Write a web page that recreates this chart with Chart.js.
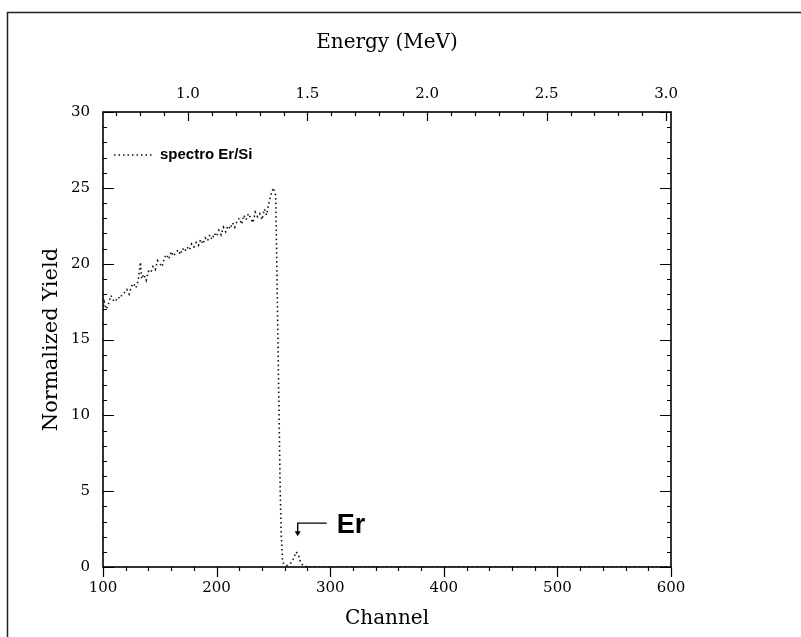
<!DOCTYPE html>
<html>
<head>
<meta charset="utf-8">
<script src="https://cdn.jsdelivr.net/npm/chart.js@4/dist/chart.umd.min.js"></script>
<style>
  html, body { margin: 0; padding: 0; background: #ffffff; }
  canvas { display: block; }
</style>
</head>
<body>
<canvas id="c" width="801" height="637"></canvas>
<script>
// ---- data ----
const channels = [100,101,103,105,107,109,111,113,115,117,119,121,123,125,127,129,131,133,134,136,138,140,142,144,146,148,150,152,154,156,158,160,162,164,166,168,170,172,174,176,178,180,182,184,186,188,190,192,194,196,198,200,202,204,206,208,210,212,214,216,218,220,222,224,226,228,230,232,234,236,238,240,242,244,246,248,250,252,253,254,255,256,257,258,259,262,266,268,270,272,274,276,280,600];
const yields   = [16.9,17.5,17.0,17.4,17.9,17.6,17.5,17.8,17.7,18.0,18.1,18.3,18.0,18.5,18.7,18.4,18.9,20.1,19.0,19.3,18.9,19.5,19.4,19.8,19.6,20.2,20.0,19.8,20.4,20.6,20.3,20.8,20.5,20.7,20.9,20.6,21.0,20.8,21.1,20.9,21.3,21.1,21.4,21.2,21.6,21.3,21.7,21.5,21.9,21.6,22.0,21.8,22.2,21.9,22.4,22.1,22.5,22.3,22.7,22.4,22.8,23.0,22.6,23.2,22.9,23.3,23.0,22.7,23.4,23.1,23.3,22.9,23.6,23.2,24.0,24.6,25.0,24.5,20.0,15.0,10.0,5.0,2.0,0.5,0.2,0.1,0.3,0.6,1.0,0.8,0.3,0.1,0,0];
const seriesLabel = "spectro Er/Si";
const channelTicks = [100,200,300,400,500,600];
const yieldTicks = [0,5,10,15,20,25,30];
const energyTicks = [1.0,1.5,2.0,2.5,3.0];
const energyRange = [0.645, 3.02];
const erMarker = {channel: 271.4, yield: 2.1, text: "Er"};

const points = channels.map((c, i) => ({x: c, y: yields[i]}));

const serif = "'DejaVu Serif', serif";
const sans = "'Liberation Sans', Arial, sans-serif";

const decor = {
  id: 'decor',
  afterDraw(chart) {
    const ctx = chart.ctx;
    const a = chart.chartArea;
    const xs = chart.scales.x, x2 = chart.scales.x2, ys = chart.scales.y;
    ctx.save();
    // outer page frame (left + top)
    ctx.strokeStyle = '#222';
    ctx.lineWidth = 1.5;
    ctx.beginPath();
    ctx.moveTo(7.5, 637); ctx.lineTo(7.5, 12.5); ctx.lineTo(801, 12.5);
    ctx.stroke();
    // plot frame
    ctx.strokeStyle = '#000';
    ctx.lineWidth = 1.6;
    ctx.strokeRect(a.left, a.top, a.right - a.left, a.bottom - a.top);
    ctx.lineWidth = 1.2;
    ctx.beginPath();
    // bottom ticks (outside)
    for (let v = 100; v <= 600; v += 20) {
      const px = Math.round(xs.getPixelForValue(v)) + 0.5;
      const len = (v % 100 === 0) ? 10 : 4;
      ctx.moveTo(px, a.bottom); ctx.lineTo(px, a.bottom + len);
    }
    // top ticks (inside)
    for (let k = 7; k <= 30; k++) {
      const e = k / 10;
      const px = Math.round(x2.getPixelForValue(e)) + 0.5;
      const len = (k % 5 === 0) ? 9 : 4;
      ctx.moveTo(px, a.top); ctx.lineTo(px, a.top + len);
    }
    // left / right ticks (inside)
    for (let v = 0; v <= 30; v++) {
      const py = Math.round(ys.getPixelForValue(v)) + 0.5;
      const len = (v % 5 === 0) ? 11 : 4;
      ctx.moveTo(a.left, py); ctx.lineTo(a.left + len, py);
      ctx.moveTo(a.right, py); ctx.lineTo(a.right - len, py);
    }
    ctx.stroke();

    // legend
    const ly = 155;
    ctx.strokeStyle = '#111';
    ctx.lineWidth = 1.6;
    ctx.setLineDash([1.5, 3]);
    ctx.beginPath(); ctx.moveTo(114, ly); ctx.lineTo(154, ly); ctx.stroke();
    ctx.setLineDash([]);
    ctx.fillStyle = '#000';
    ctx.font = 'bold 15px ' + sans;
    ctx.textBaseline = 'middle';
    ctx.textAlign = 'left';
    ctx.fillText(chart.data.datasets[0].label, 160, ly);

    // Er annotation arrow
    const tx = xs.getPixelForValue(erMarker.channel);
    const ty = ys.getPixelForValue(erMarker.yield);
    ctx.strokeStyle = '#000';
    ctx.lineWidth = 1.4;
    ctx.beginPath();
    ctx.moveTo(tx + 29, ty - 12); ctx.lineTo(tx, ty - 12); ctx.lineTo(tx, ty - 3);
    ctx.stroke();
    ctx.beginPath();
    ctx.moveTo(tx - 3, ty - 4); ctx.lineTo(tx + 3, ty - 4); ctx.lineTo(tx, ty + 1); ctx.closePath();
    ctx.fill();
    ctx.font = 'bold 27px ' + sans;
    ctx.textBaseline = 'alphabetic';
    ctx.fillText(erMarker.text, tx + 39, ty - 2);
    ctx.restore();
  }
};

new Chart(document.getElementById('c'), {
  type: 'line',
  data: {
    datasets: [{
      label: seriesLabel,
      data: points,
      borderColor: '#111',
      borderWidth: 1.6,
      borderDash: [1.5, 3],
      pointRadius: 0,
      tension: 0,
      fill: false
    }]
  },
  options: {
    responsive: false,
    animation: false,
    devicePixelRatio: 1,
    layout: { padding: { left: 0, right: 130, top: 0, bottom: 0 } },
    plugins: { legend: { display: false }, tooltip: { enabled: false } },
    scales: {
      x: {
        type: 'linear', position: 'bottom', min: 100, max: 600,
        afterBuildTicks: s => { s.ticks = channelTicks.map(v => ({value: v})); },
        afterFit: s => { s.height = 70; },
        grid: { display: false, drawTicks: false },
        border: { display: false },
        ticks: { color: '#000', font: { family: serif, size: 15 }, padding: 12, maxRotation: 0 },
        title: { display: true, text: 'Channel', color: '#000', font: { family: serif, size: 20 }, padding: { top: 0, bottom: 6 } }
      },
      x2: {
        type: 'linear', position: 'top', min: energyRange[0], max: energyRange[1],
        afterBuildTicks: s => { s.ticks = energyTicks.map(v => ({value: v})); },
        afterFit: s => { s.height = 112; },
        grid: { display: false, drawTicks: false },
        border: { display: false },
        ticks: { color: '#000', font: { family: serif, size: 15 }, padding: 9, maxRotation: 0, callback: v => Number(v).toFixed(1) },
        title: { display: true, text: 'Energy (MeV)', color: '#000', font: { family: serif, size: 20 }, padding: { top: 31, bottom: 0 } }
      },
      y: {
        type: 'linear', position: 'left', min: 0, max: 30,
        afterBuildTicks: s => { s.ticks = yieldTicks.map(v => ({value: v})); },
        afterFit: s => { s.width = 103; },
        grid: { display: false, drawTicks: false },
        border: { display: false },
        ticks: { color: '#000', font: { family: serif, size: 15 }, padding: 13 },
        title: { display: true, text: 'Normalized Yield', color: '#000', font: { family: serif, size: 21 }, padding: { top: 39, bottom: 0 } }
      }
    }
  },
  plugins: [decor]
});
</script>
</body>
</html>
